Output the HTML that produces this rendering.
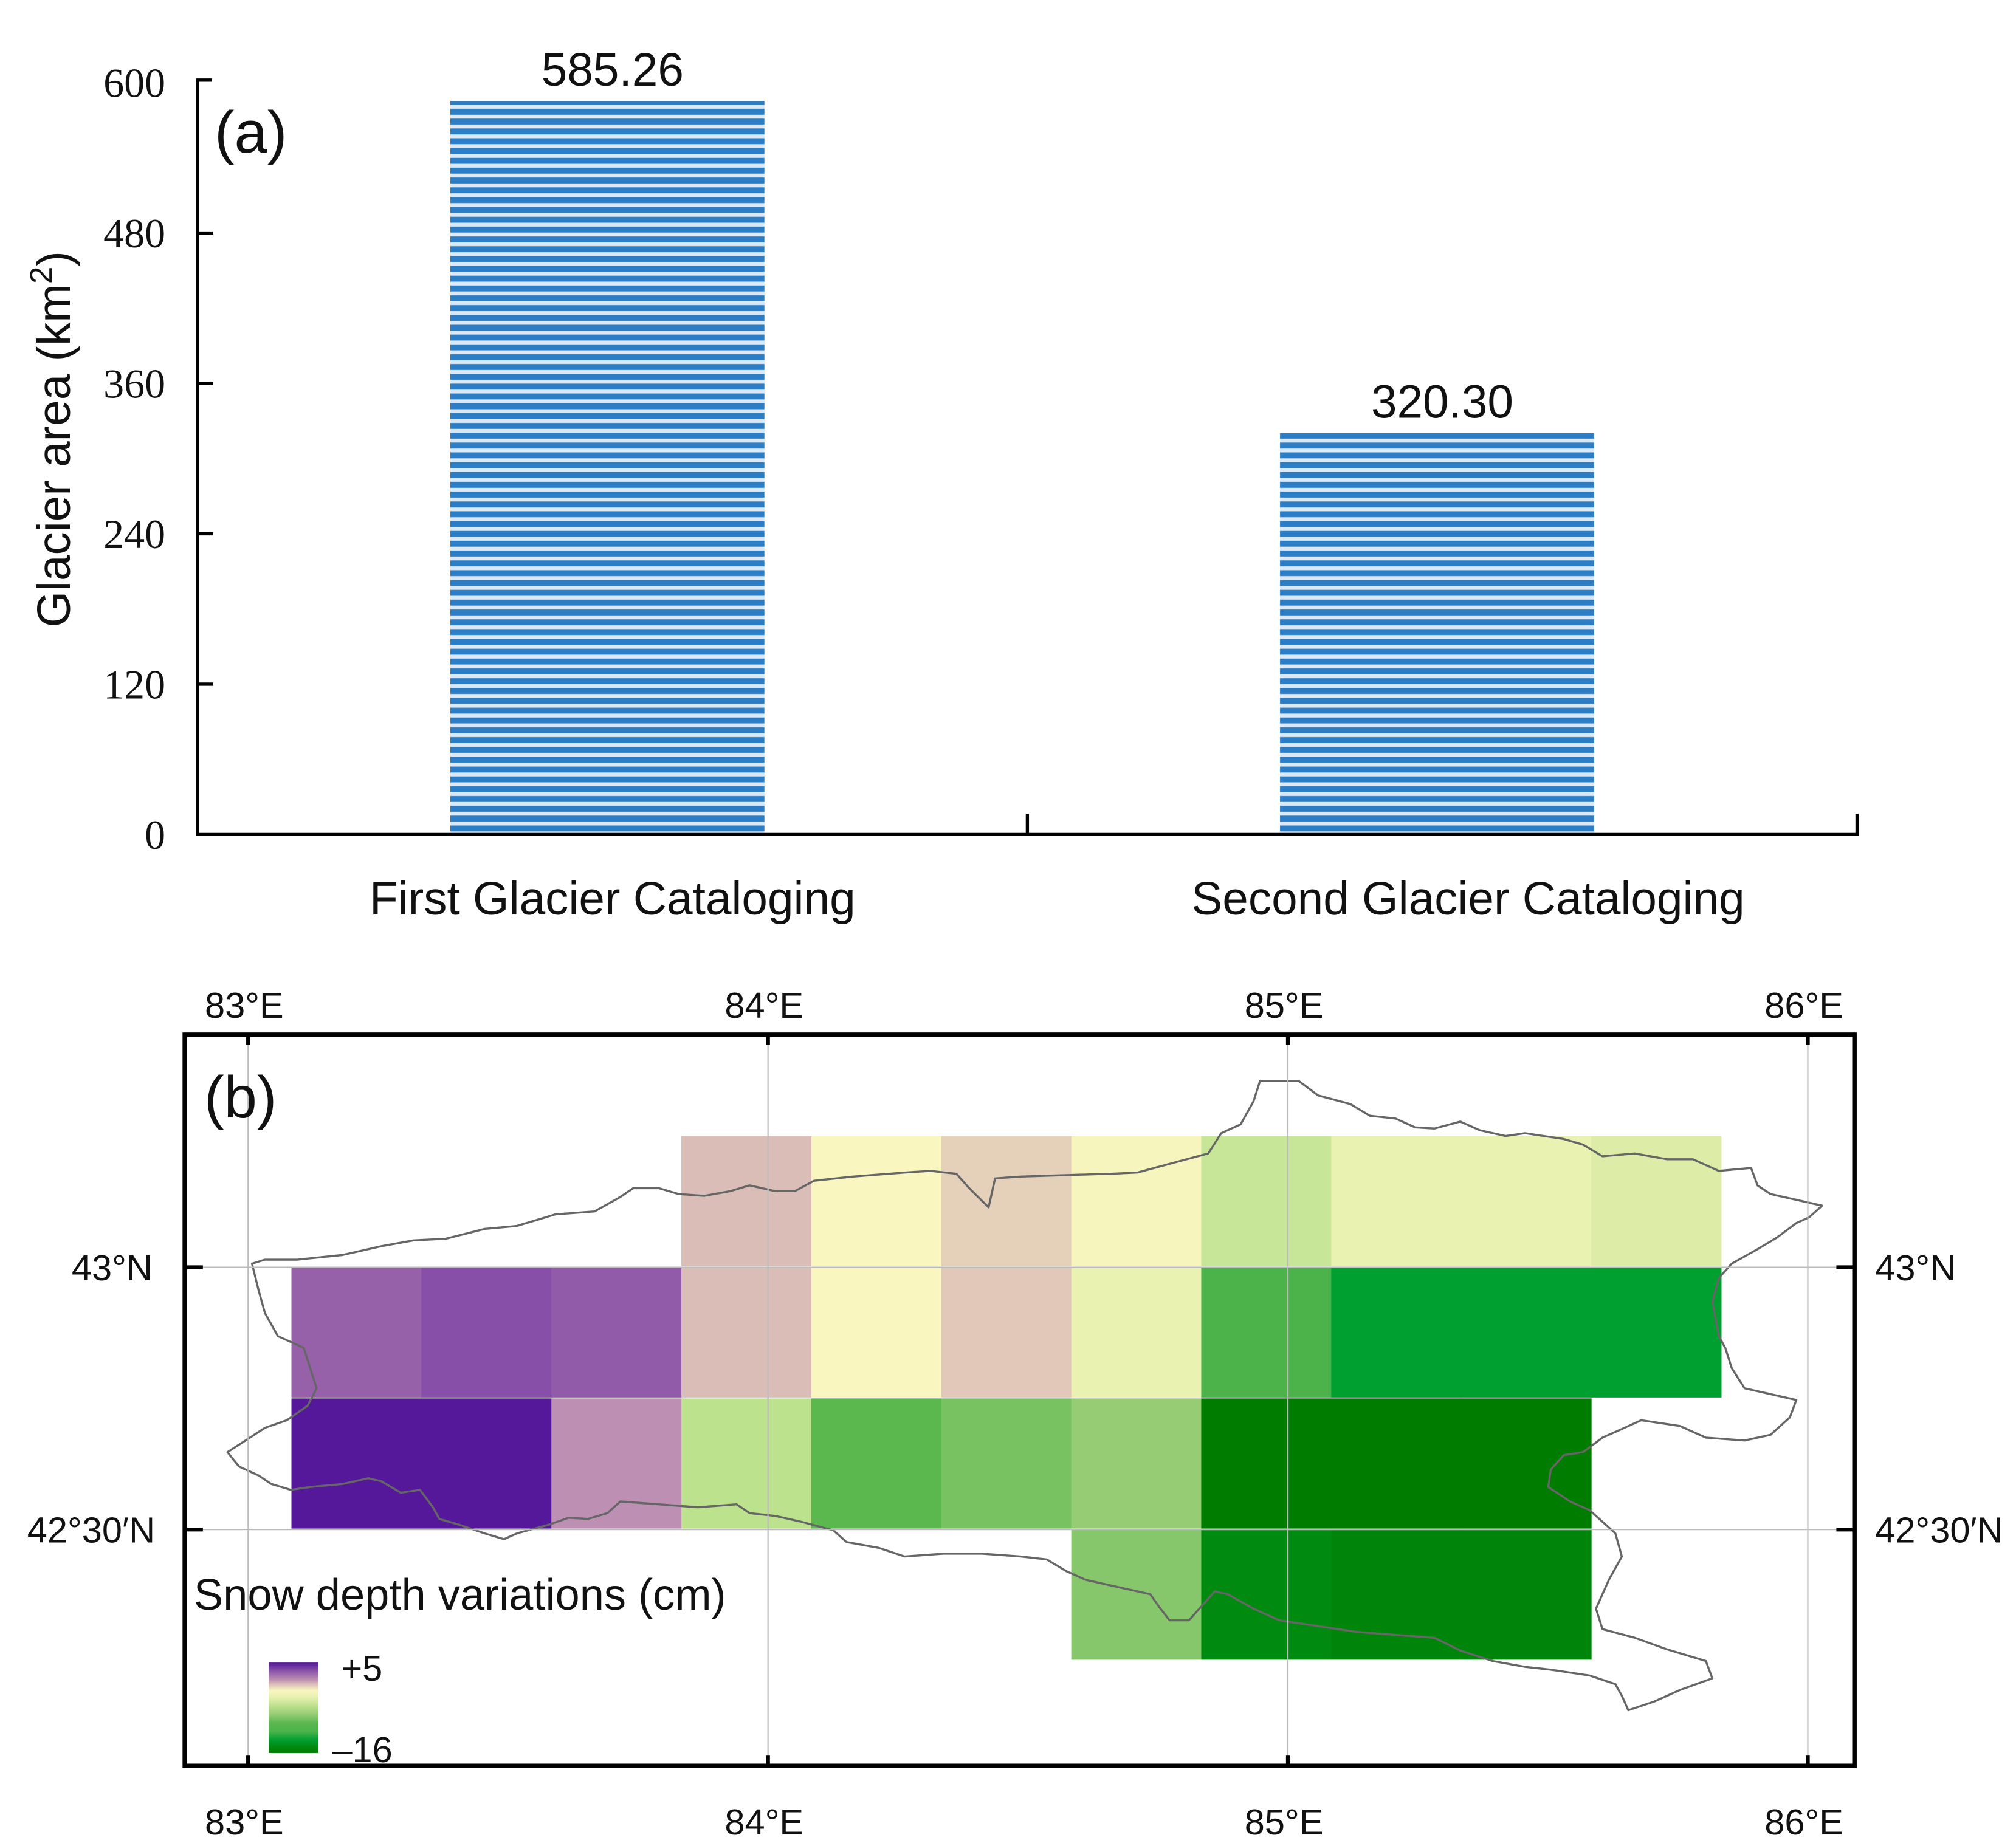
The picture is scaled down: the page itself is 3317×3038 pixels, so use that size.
<!DOCTYPE html>
<html><head><meta charset="utf-8"><style>
html,body{margin:0;padding:0;background:#fff}
svg{display:block}
.serif{font-family:"Liberation Serif",serif}
.sans{font-family:"Liberation Sans",sans-serif}
</style></head><body>
<svg id="fig" width="3317" height="3038" viewBox="0 0 1560 1429" preserveAspectRatio="none" xmlns="http://www.w3.org/2000/svg">
<defs>
<pattern id="stripes" patternUnits="userSpaceOnUse" width="10" height="7.6">
<rect width="10" height="7.6" fill="#dbe9f6"/>
<rect y="0.6" width="10" height="4.6" fill="#2b7dc6"/>
</pattern>
</defs>
<g id="chartA"></g>
<g id="chartB"></g>
</svg>
<script>
// ---- Chart (a) data ----
const categories = ["First Glacier Cataloging", "Second Glacier Cataloging"];
const glacierArea = [585.26, 320.30];
const valueLabels = ["585.26", "320.30"];
const yTicks = [0, 120, 240, 360, 480, 600];

// ---- Map (b) data ----
const lonTicks = [83, 84, 85, 86];
const lonLabels = ["83°E", "84°E", "85°E", "86°E"];
const latTicks = [43, 42.5];
const latLabels = ["43°N", "42°30′N"];
// cells: [west lon, north lat, snow depth change cm]
const cellLon = [83.0833,83.3333,83.5833,83.8333,84.0833,84.3333,84.5833,84.8333,85.0833,85.3333,85.5833];
const cellLat = [43.25, 43.0, 42.75, 42.5];
const cellValues = [
 [null,null,null,0,-1.5,-0.5,-1.7,-4.5,-2.8,-2.8,-3.5],
 [2.6,3.2,2.8,0,-1.5,-0.3,-2.8,-11,-13,-13,-13],
 [5,5,1,-5,-9,-8,-7,-16,-16,-16,null],
 [null,null,null,null,null,null,-7.5,-14.5,-15,-15,null]
];
const scaleMax = 5, scaleMin = -16;

const NS = "http://www.w3.org/2000/svg";
function mk(tag, attrs, parent, text){
  const e = document.createElementNS(NS, tag);
  for (const k in attrs) e.setAttribute(k, attrs[k]);
  if (text !== undefined) e.textContent = text;
  parent.appendChild(e); return e;
}

// ===== Chart A =====
const A = document.getElementById('chartA');
const ax0 = 153, ax1 = 1437, ay0 = 646, ay1 = 64;
const yA = v => ay0 - (v / 600) * (ay0 - ay1);
const bandW = (ax1 - ax0) / categories.length;
const xA = i => ax0 + bandW * i + bandW / 2;
const barW = 243;

categories.forEach((c, i) => {
  const cx = xA(i) - 4;
  const r = mk('rect', {x: cx - barW/2, y: yA(glacierArea[i]), width: barW, height: yA(0) - yA(glacierArea[i]), fill: 'url(#stripes)'}, A);
  
  
  const t = mk('text', {x: cx + 4, y: yA(glacierArea[i]) - 12, 'text-anchor': 'middle', 'font-size': 36, class: 'sans', fill: '#111'}, A, valueLabels[i]);
  
  
  const cl = mk('text', {x: cx + 4 + (i === 1 ? 20 : 0), y: 708, 'text-anchor': 'middle', 'font-size': 36, class: 'sans', fill: '#111'}, A, c);
  
  
});
// axes
const yAxis = mk('path', {d: `M${ax0+11},${ay1-2} H${ax0} V${ay0} H${ax1} V${ay0-16}`, fill: 'none', stroke: '#000', 'stroke-width': 2.5}, A);


mk('line', {x1: ax0 + bandW, x2: ax0 + bandW, y1: ay0, y2: ay0 - 16, stroke: '#000', 'stroke-width': 2.5}, A);
yTicks.forEach(v => {
  if (v > 0 && v < 600) mk('line', {x1: ax0, x2: ax0 + 12, y1: yA(v), y2: yA(v), stroke: '#000', 'stroke-width': 2.5}, A);
  const t = mk('text', {x: 128, y: yA(v) + 11, 'text-anchor': 'end', 'font-size': 32, class: 'serif', fill: '#111'}, A, String(v));
  
  
});
const yt = mk('text', {transform: 'translate(54,340) rotate(-90)', 'text-anchor': 'middle', 'font-size': 36, class: 'sans', fill: '#111'}, A);


mk('tspan', {}, yt, 'Glacier area (km');
mk('tspan', {dy: -14, 'font-size': 24}, yt, '2');
mk('tspan', {dy: 14}, yt, ')');
const pa = mk('text', {x: 166, y: 118, 'font-size': 46, class: 'sans', fill: '#111'}, A, '(a)');



// ===== Map B =====
const B = document.getElementById('chartB');
const fx0 = 143, fx1 = 1435, fy0 = 801, fy1 = 1367;
const xB = lon => 192 + (lon - 83) * 402.3;
const yB = lat => 981 - (lat - 43) * 406;
const cellW = 0.25, cellH = 0.25 * 0.99;

const stops = [[5,'#55189a'],[3,'#8d55a8'],[1,'#bd8fb2'],[0,'#dbbdb7'],[-1.5,'#f9f6c0'],[-3,'#e8f1b0'],[-5,'#bde28e'],[-7,'#95cc74'],[-9,'#5bb84f'],[-11,'#4bb34a'],[-13,'#00a030'],[-14.5,'#008a10'],[-16,'#007c00']];
function hex(h){return [1,3,5].map(i=>parseInt(h.substr(i,2),16));}
function color(v){
  v = Math.max(scaleMin, Math.min(scaleMax, v));
  for (let i = 0; i < stops.length - 1; i++){
    const [a, ca] = stops[i], [b, cb] = stops[i+1];
    if (v <= a && v >= b){
      const t = (a - v) / (a - b), A1 = hex(ca), B1 = hex(cb);
      return 'rgb(' + A1.map((x, k) => Math.round(x + (B1[k] - x) * t)).join(',') + ')';
    }
  }
  return stops[stops.length-1][1];
}
cellValues.forEach((row, r) => row.forEach((v, c) => {
  if (v === null) return;
  const x = xB(cellLon[c]), y = yB(cellLat[r]);
  const rc = mk('rect', {x: x, y: y, width: xB(cellLon[c] + cellW) - x + 0.3, height: yB(cellLat[r] - cellH) - y + 0.3, fill: color(v)}, B);
  
  
}));
// outline
const outlineZ = [[176,880],[190,860],[205,838],[222,825],[238,800],[245,770],[240,735],[235,700],[215,680],[205,640],[200,600],[195,555],[205,548],[230,548],[265,540],[295,525],[320,515],[345,512],[375,495],[400,490],[430,470],[460,465],[480,440],[490,425],[510,425],[525,435],[545,438],[565,430],[580,420],[600,430],[615,430],[630,412],[660,405],[700,398],[720,395],[740,400],[750,425],[765,458],[770,408],[790,405],[830,402],[860,400],[880,398],[910,380],[935,365],[945,330],[960,315],[970,275],[975,240],[990,240],[1005,240],[1020,265],[1045,280],[1060,300],[1080,305],[1095,320],[1110,322],[1130,310],[1145,325],[1165,335],[1180,330],[1210,340],[1225,350],[1240,370],[1265,365],[1290,375],[1310,375],[1330,395],[1355,390],[1360,420],[1370,435],[1390,445],[1410,455],[1400,475],[1390,485],[1375,510],[1360,530],[1340,555],[1330,580],[1325,620],[1330,680],[1335,700],[1340,735],[1350,770],[1370,780],[1390,790],[1385,820],[1370,850],[1350,860],[1320,855],[1300,835],[1270,825],[1255,840],[1240,855],[1225,880],[1210,885],[1200,910],[1198,940],[1215,965],[1230,980],[1250,1020],[1255,1060],[1245,1100],[1235,1150],[1240,1185],[1265,1200],[1290,1220],[1320,1240],[1325,1270],[1300,1290],[1280,1310],[1260,1325],[1255,1300],[1250,1280],[1230,1265],[1200,1255],[1180,1250],[1155,1240],[1130,1222],[1110,1200],[1080,1195],[1050,1190],[1020,1180],[990,1170],[970,1150],[950,1125],[940,1120],[930,1145],[920,1170],[905,1170],[898,1150],[890,1125],[860,1110],[840,1100],[825,1085],[810,1065],[790,1060],[760,1055],[730,1055],[700,1060],[680,1045],[655,1035],[645,1015],[620,1000],[600,990],[580,985],[570,970],[540,975],[510,970],[480,965],[470,985],[455,995],[440,993],[425,1005],[400,1020],[390,1030],[375,1020],[355,1005],[340,995],[335,975],[325,945],[310,950],[295,930],[285,925],[265,935],[240,940],[225,945],[210,935],[200,920],[185,905]];
const ol = mk('path', {d: 'M' + outlineZ.map(p => p[0] + ',' + (p[1]*0.449+729).toFixed(1)).join(' L') + ' Z', fill: 'none', stroke: '#666', 'stroke-width': 1.6, 'stroke-linejoin': 'round'}, B);


// graticule
lonTicks.forEach((lon, i) => {
  const x = xB(lon);
  mk('line', {x1: x, x2: x, y1: fy0, y2: fy1, stroke: '#bbb', 'stroke-width': 1}, B);
  mk('line', {x1: x, x2: x, y1: fy0, y2: fy0 + 8, stroke: '#000', 'stroke-width': 3}, B);
  mk('line', {x1: x, x2: x, y1: fy1 - 8, y2: fy1, stroke: '#000', 'stroke-width': 3}, B);
  [778, 1410].forEach(y => {
    const t = mk('text', {x: x - 3, y: y + 10, 'text-anchor': 'middle', 'font-size': 28, class: 'sans', fill: '#111'}, B, lonLabels[i]);
    
    
  });
});
latTicks.forEach((lat, i) => {
  const y = yB(lat);
  mk('line', {x1: fx0, x2: fx1, y1: y, y2: y, stroke: '#bbb', 'stroke-width': 1}, B);
  mk('line', {x1: fx0, x2: fx0 + 14, y1: y, y2: y, stroke: '#000', 'stroke-width': 3}, B);
  mk('line', {x1: fx1 - 14, x2: fx1, y1: y, y2: y, stroke: '#000', 'stroke-width': 3}, B);
  const t1 = mk('text', {x: i === 0 ? 118 : 120, y: y + 10, 'text-anchor': 'end', 'font-size': 28, class: 'sans', fill: '#111'}, B, latLabels[i]);
  
  
  const t2 = mk('text', {x: 1451, y: y + 10, 'font-size': 28, class: 'sans', fill: '#111'}, B, latLabels[i]);
  
  
});
const fr = mk('rect', {x: fx0, y: fy0, width: fx1 - fx0, height: fy1 - fy0, fill: 'none', stroke: '#000', 'stroke-width': 3.5}, B);


const pb = mk('text', {x: 158, y: 865, 'font-size': 46, class: 'sans', fill: '#111'}, B, '(b)');


// legend
const lt = mk('text', {x: 150, y: 1246, 'font-size': 34, class: 'sans', fill: '#111'}, B, 'Snow depth variations (cm)');


const lg = mk('linearGradient', {id: 'cbar', x1: 0, y1: 0, x2: 0, y2: 1}, document.querySelector('defs'));
stops.forEach(s => mk('stop', {offset: ((scaleMax - s[0]) / (scaleMax - scaleMin)).toFixed(3), 'stop-color': s[1]}, lg));
const cb = mk('rect', {x: 208, y: 1287, width: 38, height: 70, fill: 'url(#cbar)'}, B);


const l1 = mk('text', {x: 264, y: 1301, 'font-size': 28, class: 'sans', fill: '#111'}, B, '+' + scaleMax);


const l2 = mk('text', {x: 257, y: 1364, 'font-size': 28, class: 'sans', fill: '#111'}, B, '\u2013' + Math.abs(scaleMin));


</script>
</body></html>
